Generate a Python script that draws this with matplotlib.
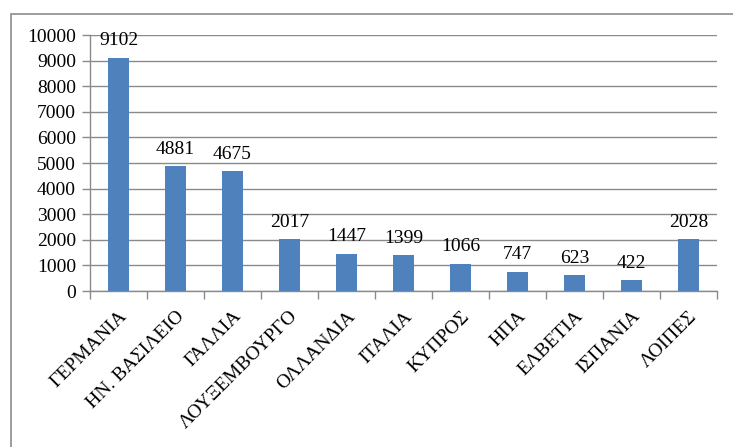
import matplotlib.pyplot as plt
from matplotlib.patches import Rectangle

countries = ['ΓΕΡΜΑΝΙΑ', 'ΗΝ. ΒΑΣΙΛΕΙΟ', 'ΓΑΛΛΙΑ', 'ΛΟΥΞΕΜΒΟΥΡΓΟ', 'ΟΛΛΑΝΔΙΑ',
             'ΙΤΑΛΙΑ', 'ΚΥΠΡΟΣ', 'ΗΠΑ', 'ΕΛΒΕΤΙΑ', 'ΙΣΠΑΝΙΑ', 'ΛΟΙΠΕΣ']
values = [9102, 4881, 4675, 2017, 1447, 1399, 1066, 747, 623, 422, 2028]
y_ticks = list(range(0, 10001, 1000))

plt.rcParams['font.family'] = ['Liberation Serif', 'DejaVu Serif']

fig = plt.figure(figsize=(7.33, 4.47), dpi=100)
# thin frame around the chart area
fig.patches.append(Rectangle((11 / 733, -0.1), 1.1, 1 - 14 / 447 + 0.1,
                             transform=fig.transFigure, fill=False,
                             edgecolor='#8c8c8c', linewidth=1.2))

ax = fig.add_axes([90 / 733, 1 - 291 / 447, (717 - 90) / 733, (291 - 35) / 447])

x = list(range(len(countries)))
ax.bar(x, values, width=0.37, color='#4F81BD', zorder=3)
for xi, v in zip(x, values):
    ax.annotate(str(v), (xi, v), xytext=(0, 9), textcoords='offset points',
                ha='center', va='baseline', fontsize=14, color='black')

ax.set_xlim(-0.5, len(countries) - 0.5)
ax.set_ylim(0, 10000)
ax.set_yticks(y_ticks)
ax.set_yticklabels([str(t) for t in y_ticks], fontsize=14)
ax.grid(axis='y', color='#8a8a8a', linewidth=1.0, zorder=0)

ax.set_xticks(x)
ax.set_xticklabels(countries, rotation=45, ha='right', rotation_mode='anchor', fontsize=14)
ax.tick_params(axis='x', length=0, pad=12)
ax.set_xticks([i - 0.5 for i in range(len(countries) + 1)], minor=True)
ax.tick_params(axis='x', which='minor', length=6, color='#8a8a8a', width=1)
ax.tick_params(axis='y', length=6, color='#8a8a8a', width=1, pad=4)

for side in ['top', 'right']:
    ax.spines[side].set_visible(False)
for side in ['left', 'bottom']:
    ax.spines[side].set_color('#8a8a8a')
    ax.spines[side].set_linewidth(1.0)

plt.savefig('out.png', dpi=100)
